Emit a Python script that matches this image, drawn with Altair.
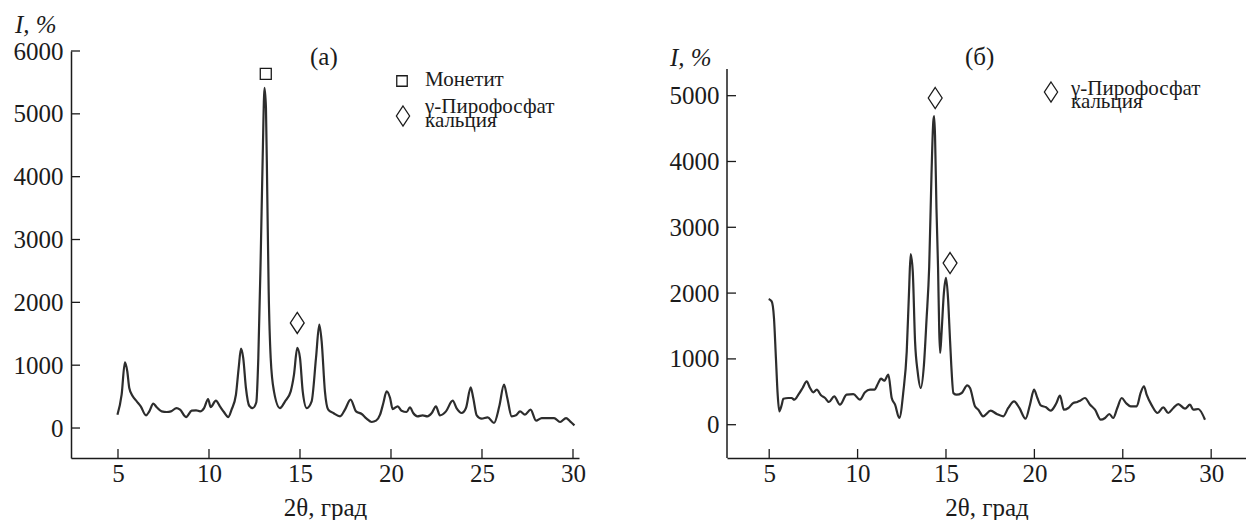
import altair as alt
import pandas as pd

# XRD pattern (а): 2θ, deg and intensity, %
theta_a = [4.97, 5.2, 5.38, 5.51, 5.62, 5.81, 6.03, 6.25, 6.54, 6.72,
           6.94, 7.13, 7.40, 7.68, 7.91, 8.22, 8.41, 8.74, 9.05, 9.29,
           9.51, 9.73, 9.95, 10.09, 10.38, 10.6, 10.82, 11.06, 11.24, 11.48,
           11.63, 11.76, 11.88, 12.03, 12.21, 12.40, 12.60, 12.71, 12.84, 12.95,
           13.05, 13.13, 13.2, 13.28, 13.39, 13.57, 13.90, 14.18, 14.49, 14.67,
           14.85, 15.0, 15.15, 15.37, 15.64, 15.88, 16.06, 16.19, 16.37, 16.55,
           16.83, 17.2, 17.47, 17.78, 18.08, 18.39, 18.66, 18.94, 19.18, 19.40,
           19.58, 19.76, 19.95, 20.09, 20.37, 20.58, 20.86, 21.04, 21.22, 21.45,
           21.74, 22.0, 22.24, 22.47, 22.69, 23.02, 23.39, 23.6, 23.88, 24.12,
           24.38, 24.52, 24.71, 24.98, 25.31, 25.66, 25.95, 26.21, 26.39, 26.63,
           26.87, 27.09, 27.36, 27.67, 27.97, 28.28, 28.64, 28.96, 29.29, 29.62,
           29.84, 30.08]
int_a = [212, 530, 1046, 903, 637, 505, 425, 345, 202, 265,
         387, 330, 265, 255, 265, 318, 292, 175, 276, 282,
         265, 318, 462, 334, 435, 345, 255, 175, 292, 530,
         955, 1263, 1115, 637, 355, 318, 410, 1115, 2707, 4300,
         5414, 5095, 3769, 2177, 1115, 584, 318, 425, 584, 849,
         1274, 1115, 584, 318, 425, 1115, 1645, 1380, 584, 292,
         239, 186, 292, 451, 265, 223, 149, 96, 117, 212,
         398, 584, 478, 302, 345, 276, 255, 330, 239, 186,
         202, 186, 239, 345, 202, 265, 435, 318, 239, 318,
         648, 478, 202, 149, 170, 80, 345, 690, 478, 186,
         202, 265, 212, 292, 117, 159, 159, 159, 96, 159,
         106, 43]

# XRD pattern (б)
theta_b = [4.97, 5.14, 5.27, 5.38, 5.48, 5.57, 5.71, 5.80, 6.08, 6.27,
           6.42, 6.65, 6.89, 7.12, 7.31, 7.49, 7.69, 7.93, 8.16, 8.38,
           8.68, 9.0, 9.38, 9.76, 10.13, 10.42, 10.70, 10.95, 11.17, 11.32,
           11.51, 11.74, 11.93, 12.12, 12.36, 12.59, 12.78, 12.91, 13.0, 13.12,
           13.25, 13.4, 13.57, 13.75, 13.9, 14.05, 14.18, 14.28, 14.33, 14.38,
           14.46, 14.55, 14.62, 14.67, 14.75, 14.88, 15.0, 15.12, 15.2, 15.3,
           15.42, 15.6, 15.89, 16.2, 16.36, 16.64, 16.83, 17.1, 17.53, 17.87,
           18.24, 18.52, 18.85, 19.15, 19.5, 19.75, 19.98, 20.17, 20.36, 20.66,
           20.92, 21.22, 21.45, 21.67, 21.92, 22.2, 22.43, 22.58, 22.86, 23.15,
           23.43, 23.75, 24.0, 24.24, 24.46, 24.69, 24.94, 25.18, 25.45, 25.79,
           26.01, 26.2, 26.35, 26.64, 26.97, 27.29, 27.57, 27.86, 28.14, 28.52,
           28.8, 28.99, 29.27, 29.65]
int_b = [1910, 1875, 1622, 1014, 456, 204, 304, 395, 406, 406,
         380, 456, 558, 659, 558, 492, 532, 447, 406, 345,
         431, 304, 456, 466, 380, 492, 532, 532, 634, 699,
         669, 760, 406, 304, 102, 507, 1115, 2027, 2594, 2331,
         1267, 800, 558, 900, 1600, 2400, 3800, 4600, 4690, 4400,
         3300, 2400, 1400, 1090, 1400, 2000, 2230, 1900, 1450, 900,
         480, 456, 482, 599, 558, 280, 228, 128, 213, 163,
         128, 254, 355, 254, 91, 304, 532, 406, 294, 264,
         213, 314, 441, 228, 254, 330, 345, 365, 406, 304,
         228, 76, 102, 163, 102, 254, 406, 330, 280, 280,
         482, 584, 456, 294, 178, 264, 178, 254, 314, 243,
         304, 228, 239, 76]

# Phase markers above the reflections
monetite_a_theta = [13.12]
monetite_a_int = [5637]
pyro_a_theta = [14.85]
pyro_a_int = [1672]
pyro_b_theta = [14.39, 15.23]
pyro_b_int = [4965, 2457]

x_ticks = [5, 10, 15, 20, 25, 30]
y_ticks_a = [0, 1000, 2000, 3000, 4000, 5000, 6000]
y_ticks_b = [0, 1000, 2000, 3000, 4000, 5000]

FONT = "Liberation Serif"
INK = "#1b1b1b"
LINE = "#2d2d2d"
DIAMOND = "M0,-1L0.66,0L0,1L-0.66,0Z"
H = 407


def one_row():
    return alt.Data(values=[{"k": 0}])


def text_at(txt, x, y, size=25, style="normal"):
    return alt.Chart(one_row()).mark_text(
        font=FONT, fontSize=size, fontStyle=style, align="left",
        baseline="alphabetic", color=INK
    ).encode(x=alt.value(x), y=alt.value(y), text=alt.value(txt))


def symbol_at(shape, size, x, y):
    return alt.Chart(one_row()).mark_point(
        shape=shape, size=size, filled=False, stroke=INK, strokeWidth=1.3, opacity=1
    ).encode(x=alt.value(x), y=alt.value(y))


def panel(theta, inten, xdom, ydom, yticks, width, markers, extras, axis_top=0):
    # every layer uses the same x/y definitions so the axes merge cleanly
    X = alt.X("theta:Q", scale=alt.Scale(domain=xdom, nice=False, zero=False),
              axis=alt.Axis(values=x_ticks, format="d", title="2θ, град",
                            labelFont=FONT, labelFontSize=25, labelPadding=3,
                            titleFont=FONT, titleFontSize=25, titlePadding=9,
                            labelFlush=False))
    Y = alt.Y("I:Q", scale=alt.Scale(domain=ydom, nice=False, zero=False),
              axis=alt.Axis(values=yticks, format="d", title=None,
                            labelFont=FONT, labelFontSize=25, labelPadding=8,
                            domain=axis_top == 0))
    curve = alt.Chart(pd.DataFrame({"theta": theta, "I": inten})).mark_line(
        color=LINE, strokeWidth=2.2, interpolate="monotone"
    ).encode(x=X, y=Y)
    # inward tick marks
    xt = alt.Chart(pd.DataFrame({"theta": x_ticks})).mark_rule(
        color=INK, strokeWidth=1.3
    ).encode(x=X, y=alt.value(H), y2=alt.value(H - 9))
    yt = alt.Chart(pd.DataFrame({"I": yticks})).mark_rule(
        color=INK, strokeWidth=1.3
    ).encode(y=Y, x=alt.value(0), x2=alt.value(9))
    layers = [curve, xt, yt]
    if axis_top:
        layers.append(alt.Chart(one_row()).mark_rule(color=INK, strokeWidth=1.5).encode(
            x=alt.value(0), y=alt.value(axis_top), y2=alt.value(H)))
    for th, iv, shape, size in markers:
        layers.append(alt.Chart(pd.DataFrame({"theta": th, "I": iv})).mark_point(
            shape=shape, size=size, filled=False, stroke=INK, strokeWidth=1.3, opacity=1
        ).encode(x=X, y=Y))
    layers += extras
    return alt.layer(*layers).properties(width=width, height=H)


left = panel(
    theta_a, int_a, [2.418, 30.33], [-477, 6000], y_ticks_a, 508,
    [(monetite_a_theta, monetite_a_int, "square", 121),
     (pyro_a_theta, pyro_a_int, DIAMOND, 441)],
    [text_at("I, %", -56, -18, style="italic"),
     text_at("(а)", 239, 14),
     symbol_at("square", 110, 331, 30),
     text_at("Монетит", 354, 35, size=21),
     symbol_at(DIAMOND, 400, 332, 65),
     text_at("γ-Пирофосфат", 354, 62, size=21),
     text_at("кальция", 354, 76, size=21)],
)

right = panel(
    theta_b, int_b, [2.613, 31.97], [-506, 5679], y_ticks_b, 519,
    [(pyro_b_theta, pyro_b_int, DIAMOND, 441)],
    [text_at("I, %", -57, 15, style="italic"),
     text_at("(б)", 238, 14),
     symbol_at(DIAMOND, 400, 324, 41),
     text_at("γ-Пирофосфат", 344, 44, size=21),
     text_at("кальция", 344, 57, size=21)],
    axis_top=18,
)

chart = alt.hconcat(left, right, spacing=148, bounds="flush").resolve_scale(
    x="independent", y="independent"
).properties(
    padding={"left": 13, "top": 13, "right": 0, "bottom": 0}, background="white"
).configure_view(stroke=None).configure_axis(
    labelFont=FONT, labelFontSize=25, labelColor=INK,
    titleFont=FONT, titleFontSize=25, titleFontWeight="normal", titleColor=INK,
    domainColor=INK, domainWidth=1.5, grid=False, ticks=False, tickSize=0,
)

chart.save("out.html", embed_options={"renderer": "svg", "actions": False})
